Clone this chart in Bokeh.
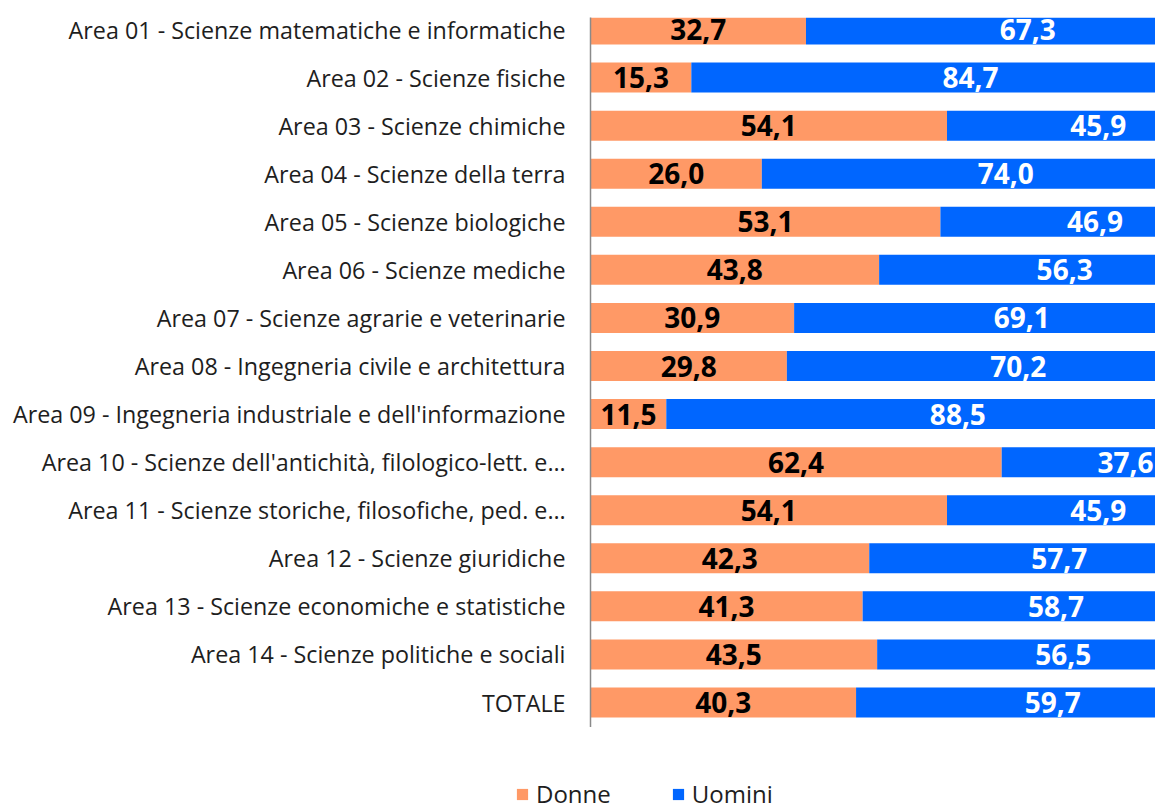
from bokeh.plotting import figure
from bokeh.models import ColumnDataSource, Range1d, FixedTicker, Legend, LegendItem
from bokeh.core.properties import value
from bokeh.embed import file_html
from bokeh.resources import INLINE

categories = [
    "Area 01 - Scienze matematiche e informatiche",
    "Area 02 - Scienze fisiche",
    "Area 03 - Scienze chimiche",
    "Area 04 - Scienze della terra",
    "Area 05 - Scienze biologiche",
    "Area 06 - Scienze mediche",
    "Area 07 - Scienze agrarie e veterinarie",
    "Area 08 - Ingegneria civile e architettura",
    "Area 09 - Ingegneria industriale e dell'informazione",
    "Area 10 - Scienze dell'antichità, filologico-lett. e…",
    "Area 11 - Scienze storiche, filosofiche, ped. e…",
    "Area 12 - Scienze giuridiche",
    "Area 13 - Scienze economiche e statistiche",
    "Area 14 - Scienze politiche e sociali",
    "TOTALE",
]
donne = [32.7, 15.3, 54.1, 26.0, 53.1, 43.8, 30.9, 29.8, 11.5, 62.4, 54.1, 42.3, 41.3, 43.5, 40.3]
uomini = [67.3, 84.7, 45.9, 74.0, 46.9, 56.3, 69.1, 70.2, 88.5, 37.6, 45.9, 57.7, 58.7, 56.5, 59.7]
series_names = ["Donne", "Uomini"]
series_colors = ["#FF9966", "#0066FF"]

FONT = "Open Sans"


def fmt(v):
    return f"{v:.1f}".replace(".", ",")


idx = list(range(len(categories)))
src = ColumnDataSource(dict(
    y=idx,
    d_left=[0] * len(donne),
    d_right=donne,
    u_left=donne,
    u_right=[d + u for d, u in zip(donne, uomini)],
    d_mid=[d / 2 for d in donne],
    u_mid=[d + u / 2 for d, u in zip(donne, uomini)],
    d_lab=[fmt(d) for d in donne],
    u_lab=[fmt(u) for u in uomini],
))

p = figure(
    width=1155, height=727,
    x_range=Range1d(0, 85.74),
    y_range=Range1d(14.52, -0.25),
    output_backend="svg", toolbar_location=None,
    min_border_left=590, min_border_right=0, min_border_top=17, min_border_bottom=0,
)
p.outline_line_color = None
p.xgrid.visible = False
p.ygrid.visible = False
p.xaxis.visible = False
p.background_fill_color = "white"
p.border_fill_color = "white"

bar_h = 0.624
p.hbar(y="y", left="d_left", right="d_right", height=bar_h, source=src,
       fill_color=series_colors[0], line_color=None)
p.hbar(y="y", left="u_left", right="u_right", height=bar_h, source=src,
       fill_color=series_colors[1], line_color=None)

p.text(x="d_mid", y="y", text="d_lab", source=src, text_align="center",
       text_baseline="middle", text_font=value(FONT), text_font_style="bold",
       text_font_size="28px", text_color="black")
p.text(x="u_mid", y="y", text="u_lab", source=src, text_align="center",
       text_baseline="middle", text_font=value(FONT), text_font_style="bold",
       text_font_size="28px", text_color="white")

ya = p.yaxis[0]
ya.ticker = FixedTicker(ticks=idx)
ya.major_label_overrides = {i: c for i, c in zip(idx, categories)}
ya.major_tick_line_color = None
ya.minor_tick_line_color = None
ya.major_tick_out = 0
ya.major_tick_in = 0
ya.major_label_standoff = 25
ya.major_label_text_font = FONT
ya.major_label_text_font_size = "23.3px"
ya.major_label_text_color = "#1e1e1e"
ya.axis_line_color = "#8a8a8a"
ya.axis_line_width = 1.5

# legend strip below the chart (separate root so its frame spans the full width)
leg_fig = figure(
    width=1155, height=76,
    x_range=Range1d(0, 1), y_range=Range1d(0, 1),
    output_backend="svg", toolbar_location=None,
    min_border_left=0, min_border_right=0, min_border_top=0, min_border_bottom=0,
)
leg_fig.outline_line_color = None
leg_fig.xaxis.visible = False
leg_fig.yaxis.visible = False
leg_fig.xgrid.visible = False
leg_fig.ygrid.visible = False
# swatch source (kept outside the visible range; only used for legend swatches)
swatch = ColumnDataSource(dict(y=[-5, -5], left=[0, 0], right=[1, 1], color=series_colors))
lr = leg_fig.hbar(y="y", left="left", right="right", height=1, source=swatch,
                  fill_color="color", line_color=None)

legend = Legend(
    items=[LegendItem(label=series_names[0], renderers=[lr], index=0),
           LegendItem(label=series_names[1], renderers=[lr], index=1)],
    orientation="horizontal",
    location=(515, -7),
    glyph_width=14, glyph_height=14,
    label_standoff=7, spacing=60,
    padding=0, margin=0,
    border_line_color=None, background_fill_alpha=0,
    label_text_font=FONT, label_text_font_size="24px", label_text_color="#1e1e1e",
)
leg_fig.add_layout(legend)

open("out.html", "w").write(file_html([p, leg_fig], INLINE))
